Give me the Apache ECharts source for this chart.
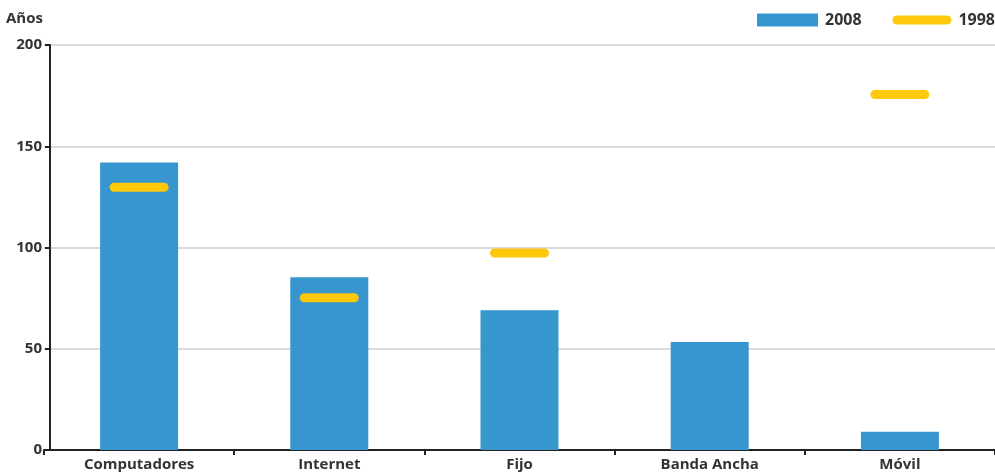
<!DOCTYPE html>
<html>
<head>
<meta charset="utf-8">
<script src="https://cdn.jsdelivr.net/npm/echarts@6/dist/echarts.min.js"></script>
<style>html,body{margin:0;padding:0;background:#fff}#c{width:995px;height:475px}</style>
</head>
<body>
<div id="c"></div>
<script>
const categories = ['Computadores', 'Internet', 'Fijo', 'Banda Ancha', 'Móvil'];
const values2008 = [142, 85.3, 69, 53.3, 9];
const values1998 = [129.7, 75.2, 97.3, null, 175.5];
const yTicks = { min: 0, max: 200, interval: 50 };

const capsule = 'path://M4.5,0 H54.5 A4.5,4.5 0 0 1 54.5,9 H4.5 A4.5,4.5 0 0 1 4.5,0 Z';
const FONT = 'Open Sans';
const chart = echarts.init(document.getElementById('c'), null, { renderer: 'canvas' });
chart.setOption({
  animation: false,
  backgroundColor: '#fff',
  textStyle: { fontFamily: FONT },
  graphic: [{
    type: 'text', left: 6, top: 11,
    style: { text: 'Años', font: 'bold 15px "Open Sans"', fill: '#333' }
  }],
  legend: [{
    data: ['2008'], left: 757, top: 12, padding: 0, itemWidth: 61, itemHeight: 13, itemGap: 0,
    textStyle: { fontWeight: 'bold', fontSize: 16, color: '#333', fontFamily: FONT, padding: [0, 0, 0, 2] },
    icon: 'rect'
  }, {
    data: [{ name: '1998', icon: capsule }], right: 0, top: 12, padding: 0, itemWidth: 59, itemHeight: 9, itemGap: 0,
    textStyle: { fontWeight: 'bold', fontSize: 16, color: '#333', fontFamily: FONT, padding: [0, 0, 0, 2] }
  }],
  grid: { left: 44, right: 0, top: 45, bottom: 25, containLabel: false },
  xAxis: {
    type: 'category', data: categories,
    axisLine: { lineStyle: { color: '#222', width: 2 } },
    axisTick: { show: true, length: 5, interval: 0, lineStyle: { color: '#222', width: 2 } },
    axisLabel: { interval: 0, fontWeight: 'bold', fontSize: 15, color: '#333', fontFamily: FONT, margin: 7 }
  },
  yAxis: {
    type: 'value', min: yTicks.min, max: yTicks.max, interval: yTicks.interval, offset: -6,
    axisLine: { show: true, lineStyle: { color: '#222', width: 2 } },
    axisTick: { show: true, length: 5, lineStyle: { color: '#222', width: 2 } },
    axisLabel: { fontWeight: 'bold', fontSize: 15, color: '#333', fontFamily: FONT, margin: 8 },
    splitLine: { lineStyle: { color: '#cfcfcf', width: 1.5 } }
  },
  series: [{
    name: '2008', type: 'bar', data: values2008, barWidth: 78,
    itemStyle: { color: '#3796cd' }, z: 2
  }, {
    name: '1998', type: 'scatter', data: values1998, symbol: capsule, symbolSize: [59, 9],
    itemStyle: { color: '#fec80b', opacity: 1 }, z: 3
  }]
});
</script>
</body>
</html>
